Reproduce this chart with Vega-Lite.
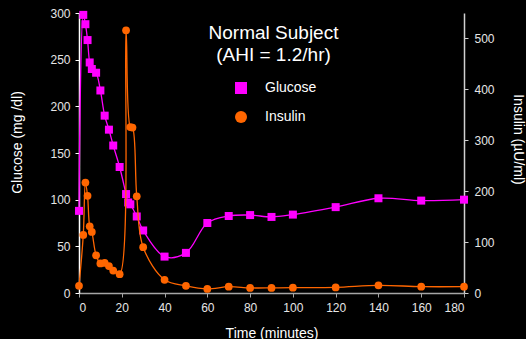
{
  "$schema": "https://vega.github.io/schema/vega-lite/v6.json",
  "autosize": "none",
  "width": 385,
  "height": 280,
  "padding": {"left": 79, "top": 13, "right": 62, "bottom": 46},
  "background": "black",
  "config": {
    "view": {"stroke": null},
    "font": "Liberation Sans",
    "axis": {
      "grid": false,
      "labelColor": "#e6e6e6",
      "labelFontSize": 12,
      "labelFont": "Liberation Sans",
      "titleColor": "#ffffff",
      "titleFontSize": 14,
      "titleFontWeight": "normal",
      "titleFont": "Liberation Sans",
      "tickSize": 4,
      "domainWidth": 1.5
    }
  },
  "title": {
    "text": ["Normal Subject", "(AHI = 1.2/hr)"],
    "fontSize": 19,
    "fontWeight": "normal",
    "font": "Liberation Sans",
    "color": "#ffffff",
    "anchor": "middle",
    "frame": "group",
    "baseline": "top",
    "offset": -58,
    "lineHeight": 22,
    "dx": 2
  },
  "data": {
    "values": [
      {"series": "Glucose", "t": 0, "v": 88},
      {"series": "Glucose", "t": 2, "v": 298},
      {"series": "Glucose", "t": 3, "v": 288},
      {"series": "Glucose", "t": 4, "v": 271},
      {"series": "Glucose", "t": 5, "v": 247},
      {"series": "Glucose", "t": 6, "v": 240},
      {"series": "Glucose", "t": 8, "v": 236},
      {"series": "Glucose", "t": 10, "v": 217},
      {"series": "Glucose", "t": 12, "v": 190},
      {"series": "Glucose", "t": 14, "v": 175},
      {"series": "Glucose", "t": 16, "v": 158},
      {"series": "Glucose", "t": 19, "v": 135},
      {"series": "Glucose", "t": 22, "v": 106},
      {"series": "Glucose", "t": 23, "v": 97},
      {"series": "Glucose", "t": 24, "v": 95},
      {"series": "Glucose", "t": 27, "v": 82},
      {"series": "Glucose", "t": 30, "v": 67},
      {"series": "Glucose", "t": 40, "v": 39},
      {"series": "Glucose", "t": 50, "v": 43},
      {"series": "Glucose", "t": 60, "v": 75},
      {"series": "Glucose", "t": 70, "v": 82.5},
      {"series": "Glucose", "t": 80, "v": 83.5},
      {"series": "Glucose", "t": 90, "v": 81.5},
      {"series": "Glucose", "t": 100, "v": 84},
      {"series": "Glucose", "t": 120, "v": 92},
      {"series": "Glucose", "t": 140, "v": 101.5},
      {"series": "Glucose", "t": 160, "v": 99},
      {"series": "Glucose", "t": 180, "v": 100},
      {"series": "Insulin", "t": 0, "v": 14},
      {"series": "Insulin", "t": 2, "v": 114},
      {"series": "Insulin", "t": 3, "v": 217},
      {"series": "Insulin", "t": 4, "v": 191},
      {"series": "Insulin", "t": 5, "v": 131},
      {"series": "Insulin", "t": 6, "v": 120},
      {"series": "Insulin", "t": 8, "v": 74},
      {"series": "Insulin", "t": 10, "v": 58},
      {"series": "Insulin", "t": 12, "v": 59},
      {"series": "Insulin", "t": 14, "v": 53},
      {"series": "Insulin", "t": 16, "v": 44},
      {"series": "Insulin", "t": 19, "v": 37},
      {"series": "Insulin", "t": 22, "v": 516},
      {"series": "Insulin", "t": 24, "v": 326},
      {"series": "Insulin", "t": 25, "v": 325},
      {"series": "Insulin", "t": 27, "v": 190},
      {"series": "Insulin", "t": 30, "v": 90},
      {"series": "Insulin", "t": 40, "v": 26},
      {"series": "Insulin", "t": 50, "v": 14},
      {"series": "Insulin", "t": 60, "v": 8},
      {"series": "Insulin", "t": 70, "v": 12.5},
      {"series": "Insulin", "t": 80, "v": 10},
      {"series": "Insulin", "t": 90, "v": 10},
      {"series": "Insulin", "t": 100, "v": 10.5},
      {"series": "Insulin", "t": 120, "v": 11},
      {"series": "Insulin", "t": 140, "v": 15},
      {"series": "Insulin", "t": 160, "v": 12.5},
      {"series": "Insulin", "t": 180, "v": 12.5}
    ]
  },
  "encoding": {
    "x": {
      "field": "t",
      "type": "quantitative",
      "scale": {"domain": [0, 180], "nice": false, "zero": false},
      "axis": {
        "values": [0, 20, 40, 60, 80, 100, 120, 140, 160, 180],
        "title": "Time (minutes)",
        "titleY": 33,
        "titleBaseline": "top",
        "domainColor": "#a6a6a6",
        "tickColor": "#a6a6a6",
        "labelPadding": 5
      }
    }
  },
  "layer": [
    {
      "transform": [{"filter": "datum.series === 'Glucose'"}],
      "encoding": {
        "y": {
          "field": "v",
          "type": "quantitative",
          "scale": {"domain": [0, 300], "nice": false},
          "axis": {
            "orient": "left",
            "values": [0, 50, 100, 150, 200, 250, 300],
            "title": "Glucose (mg /dl)",
            "titleX": -62,
            "titleY": 129,
            "titleBaseline": "middle",
            "domainColor": "#ffffff",
            "tickColor": "#ffffff",
            "labelPadding": 5
          }
        }
      },
      "layer": [
        {"mark": {"type": "line", "interpolate": "catmull-rom", "color": "#FF00FF", "strokeWidth": 1.3, "clip": false}},
        {
          "mark": {"type": "point", "filled": true, "size": 64, "opacity": 1, "clip": false},
          "encoding": {
            "color": {
              "field": "series",
              "type": "nominal",
              "scale": {"domain": ["Glucose", "Insulin"], "range": ["#FF00FF", "#FF6600"]},
              "legend": {
                "orient": "none",
                "legendX": 155,
                "legendY": 68,
                "title": null,
                "padding": 0,
                "symbolSize": 144,
                "labelFontSize": 14,
                "labelColor": "#ffffff",
                "labelFont": "Liberation Sans",
                "labelOffset": 17,
                "rowPadding": 15,
                "symbolStrokeWidth": 0,
                "encode": {
                  "symbols": {
                    "update": {
                      "fill": {"signal": "datum.value === 'Insulin' ? '#FF9900' : '#FF00FF'"},
                      "stroke": {"value": "transparent"}
                    }
                  }
                }
              }
            },
            "shape": {
              "field": "series",
              "type": "nominal",
              "scale": {"domain": ["Glucose", "Insulin"], "range": ["square", "circle"]}
            }
          }
        }
      ]
    },
    {
      "transform": [{"filter": "datum.series === 'Insulin'"}],
      "encoding": {
        "y": {
          "field": "v",
          "type": "quantitative",
          "scale": {"domain": [0, 550], "nice": false},
          "axis": {
            "orient": "right",
            "values": [0, 100, 200, 300, 400, 500],
            "title": "Insulin (µU/ml)",
            "titleX": 53,
            "titleY": 126,
            "titleBaseline": "middle",
            "domainColor": "#d0d0d0",
            "tickColor": "#d0d0d0",
            "labelPadding": 6
          }
        }
      },
      "layer": [
        {"mark": {"type": "line", "interpolate": "catmull-rom", "color": "#FF6600", "strokeWidth": 1.3, "clip": false}},
        {
          "mark": {"type": "point", "filled": true, "size": 60, "opacity": 1, "clip": false},
          "encoding": {
            "color": {
              "field": "series",
              "type": "nominal",
              "scale": {"domain": ["Glucose", "Insulin"], "range": ["#FF00FF", "#FF6600"]}
            },
            "shape": {
              "field": "series",
              "type": "nominal",
              "scale": {"domain": ["Glucose", "Insulin"], "range": ["square", "circle"]}
            }
          }
        }
      ]
    }
  ],
  "resolve": {"scale": {"y": "independent"}}
}
